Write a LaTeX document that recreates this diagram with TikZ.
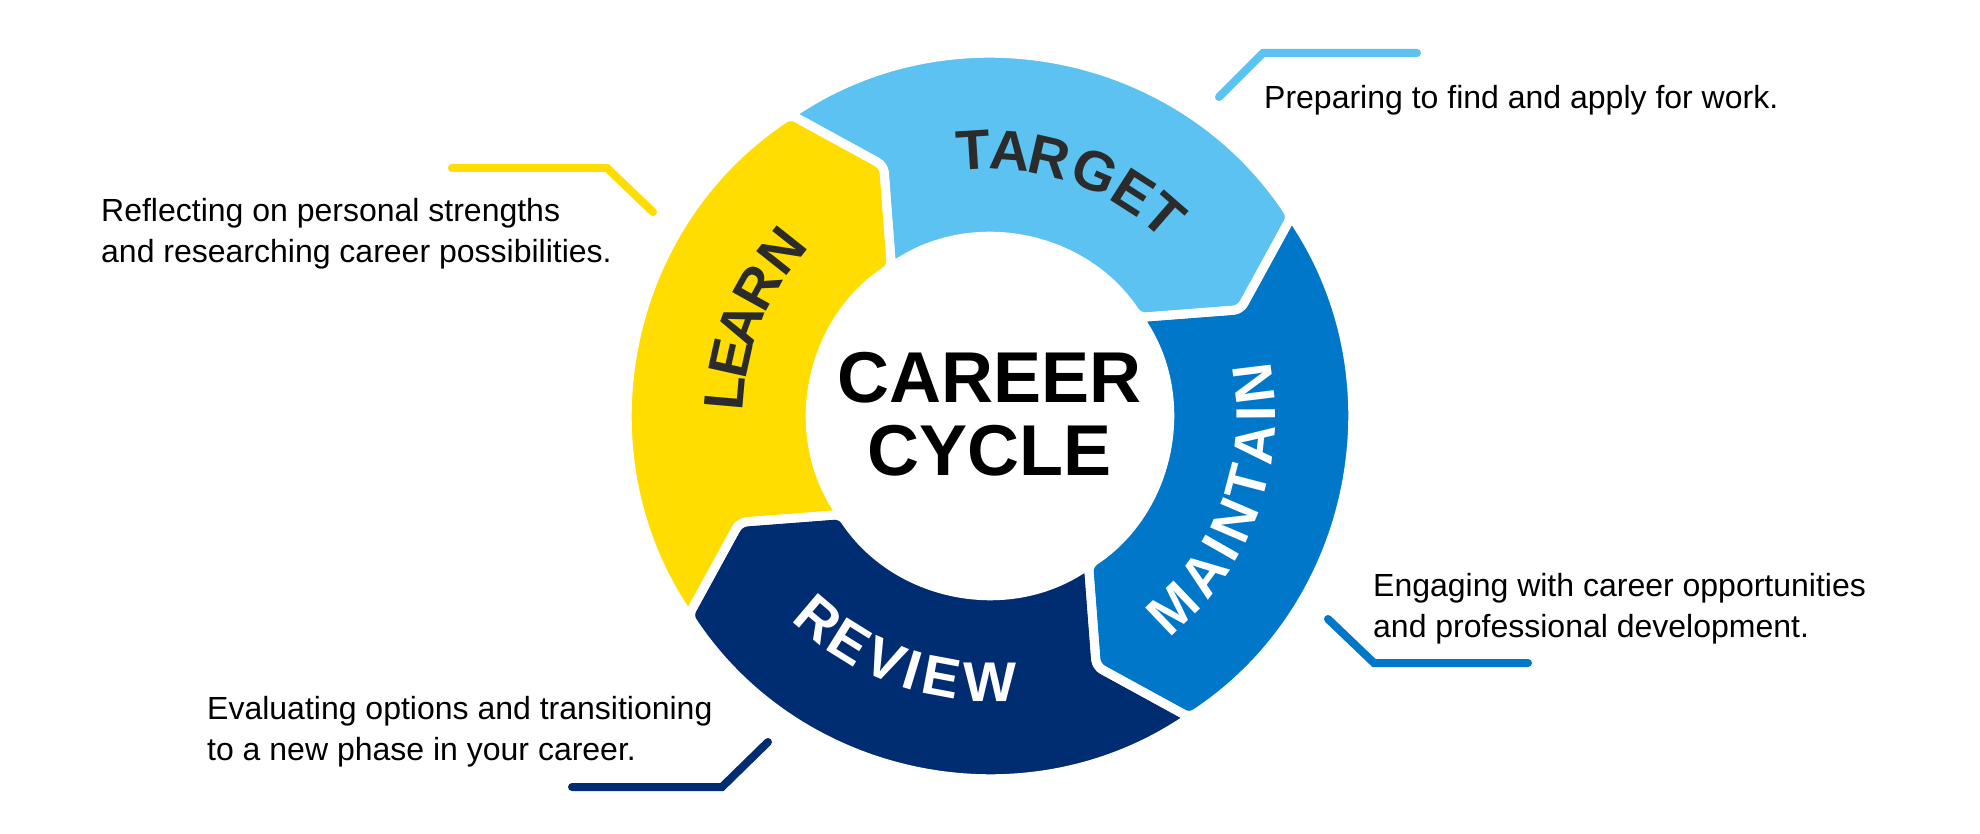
\documentclass[tikz,border=0pt]{standalone}
\usepackage{fontspec}
\setmainfont{Liberation Sans}
\usetikzlibrary{calc}

\definecolor{learnyellow}{HTML}{FFDD00}
\definecolor{targetblue}{HTML}{5BC2F2}
\definecolor{maintainblue}{HTML}{0077C8}
\definecolor{reviewnavy}{HTML}{002D72}
\definecolor{labelgray}{HTML}{2B2B2B}

\tikzset{
  seg/.style={rounded corners=7pt},
  gap/.style={draw=white, line width=9pt, rounded corners=7pt},
  lbl/.style={inner sep=0pt, font=\fontsize{56}{60}\selectfont\bfseries},
  desc/.style={inner sep=0pt, align=left, font=\fontsize{32}{41}\selectfont},
  leader/.style={line width=8pt, line cap=round},
}

\begin{document}
\begin{tikzpicture}[x=1pt,y=1pt]
\useasboundingbox[fill=white] (-990,-418) rectangle (990,416);

% ring: fills first, white gaps after
\foreach \s/\col in {213.5/learnyellow,123.5/targetblue,33.5/maintainblue,-56.5/reviewnavy}{
  \pgfmathsetmacro\e{\s-90}
  \pgfmathsetmacro\et{\e-10.5}
  \pgfmathsetmacro\st{\s-10.5}
  \fill[seg,\col] (\s:361.5) arc[start angle=\s,end angle=\e,radius=361.5] -- (\et:272)
    -- (\e:178.5) arc[start angle=\e,end angle=\s,radius=178.5] -- (\st:272) -- cycle;
}
\foreach \s in {213.5,123.5,33.5,-56.5}{
  \pgfmathsetmacro\e{\s-90}
  \pgfmathsetmacro\et{\e-10.5}
  \pgfmathsetmacro\st{\s-10.5}
  \draw[gap] (\s:361.5) arc[start angle=\s,end angle=\e,radius=361.5] -- (\et:272)
    -- (\e:178.5) arc[start angle=\e,end angle=\s,radius=178.5] -- (\st:272) -- cycle;
}

% ring labels, one letter at a time
\foreach \ch/\a [count=\i, evaluate=\a as \rot using \a-90] in {L/175,E/167.5,A/159.8,R/151,N/141.5}
  \node[lbl,labelgray,rotate=\rot] (learn\i) at (\a:266) {\ch};
\foreach \ch/\a [count=\i, evaluate=\a as \rot using \a-90] in {T/93.6,A/85.6,R/77,G/66.8,E/57.4,T/49}
  \node[lbl,labelgray,rotate=\rot] (target\i) at (\a:266) {\ch};
\foreach \ch/\a [count=\i, evaluate=\a as \rot using \a+90] in {M/-46.4,A/-36.4,I/-29.8,N/-23.2,T/-14.7,A/-6.2,I/0.4,N/7}
  \node[lbl,white,rotate=\rot] (maintain\i) at (\a:266) {\ch};
\foreach \ch/\a [count=\i, evaluate=\a as \rot using \a+90] in {R/-130.3,E/-121.9,V/-113.3,I/-106.9,E/-100.6,W/-90.1}
  \node[lbl,white,rotate=\rot] (review\i) at (\a:266) {\ch};

\node[inner sep=0pt, align=center, font=\fontsize{72}{73.3}\selectfont\bfseries] (cycle) at (0,2) {CAREER\\CYCLE};

% descriptions
\node[desc, anchor=west] (learntxt) at (-889,182) {Reflecting on personal strengths\\and researching career possibilities.};
\node[desc, anchor=base west] (targettxt) at (274,307) {Preparing to find and apply for work.};
\node[desc, anchor=west] (maintaintxt) at (383,-193) {Engaging with career opportunities\\and professional development.};
\node[desc, anchor=west] (reviewtxt) at (-783,-316) {Evaluating options and transitioning\\to a new phase in your career.};

% leader lines
\coordinate (learnA) at (-538,248);
\coordinate (learnB) at (-383,248);
\coordinate (learnC) at (-337,204);
\draw[leader,learnyellow] (learnA) -- (learnB) -- (learnC);
\coordinate (targetA) at (229,319);
\coordinate (targetB) at (273,363);
\coordinate (targetC) at (427,363);
\draw[leader,targetblue] (targetA) -- (targetB) -- (targetC);
\coordinate (maintainA) at (338,-203);
\coordinate (maintainB) at (384,-247);
\coordinate (maintainC) at (538,-247);
\draw[leader,maintainblue] (maintainA) -- (maintainB) -- (maintainC);
\coordinate (reviewA) at (-222,-326);
\coordinate (reviewB) at (-268,-371);
\coordinate (reviewC) at (-418,-371);
\draw[leader,reviewnavy] (reviewA) -- (reviewB) -- (reviewC);
\end{tikzpicture}
\end{document}
